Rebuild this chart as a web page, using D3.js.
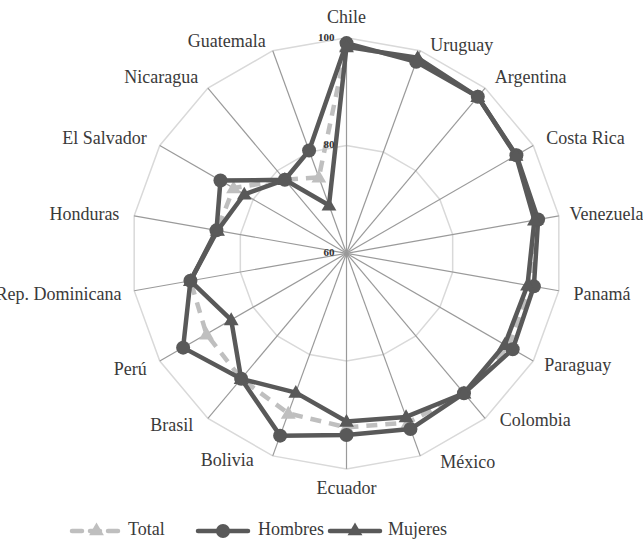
<!DOCTYPE html>
<html>
<head>
<meta charset="utf-8">
<script src="https://cdn.jsdelivr.net/npm/d3@7"></script>
<style>
  html, body { margin: 0; padding: 0; background: #fff; }
  svg { display: block; }
</style>
</head>
<body>
<svg id="chart" width="643" height="542"></svg>
<script>
const categories = ["Chile", "Uruguay", "Argentina", "Costa Rica", "Venezuela", "Panamá", "Paraguay", "Colombia", "México", "Ecuador", "Bolivia", "Brasil", "Perú", "Rep. Dominicana", "Honduras", "El Salvador", "Nicaragua", "Guatemala"];
const total    = [98.5, 98.2, 97.9, 96.3, 95.8, 94.7, 94.7, 93.9, 93.4, 92.3, 91.6, 90.4, 90.0, 89.4, 84.4, 84.2, 77.8, 75.0];
const hombres  = [99.0, 97.8, 97.9, 96.4, 96.1, 95.3, 95.6, 93.9, 94.7, 93.7, 96.0, 90.4, 95.0, 89.4, 84.5, 87.0, 77.8, 80.3];
const mujeres  = [98.3, 98.6, 97.9, 96.3, 95.4, 94.1, 93.9, 93.9, 92.3, 91.2, 87.5, 90.4, 84.7, 89.4, 84.3, 81.9, 77.8, 69.5];
const seriesNames = ["Total", "Hombres", "Mujeres"];
const tickValues = [60, 80, 100];

const FONT = '"Liberation Serif"';
const svg = d3.select("#chart");
const cx = 346.5, cy = 253.3, R = 215.6;

const r = d3.scaleLinear().domain([60, 100]).range([0, R]);
const angle = d3.scalePoint().domain(categories).range([0, 2 * Math.PI * (categories.length - 1) / categories.length]);

const pt = (cat, v) => {
  const a = angle(cat), rr = r(v);
  return [cx + rr * Math.sin(a), cy - rr * Math.cos(a)];
};

const g = svg.append("g");

// grid rings (polygons)
[80, 100].forEach(v => {
  g.append("polygon")
    .attr("points", categories.map(c => pt(c, v).join(",")).join(" "))
    .attr("fill", "none").attr("stroke", "#d9d9d9").attr("stroke-width", 1.5);
});

// spokes
categories.forEach(c => {
  const [x, y] = pt(c, 100);
  g.append("line").attr("x1", cx).attr("y1", cy).attr("x2", x).attr("y2", y)
    .attr("stroke", "#9a9a9a").attr("stroke-width", 1.2);
});

// category labels
const nudges = {
  "Chile": [0, -6], "Uruguay": [5, 8], "Guatemala": [-2, 4], "Colombia": [5, -10],
  "México": [15, -8], "Ecuador": [0, 4], "Bolivia": [-14, -10], "Brasil": [-5, -5],
  "Paraguay": [-2, -4], "Venezuela": [-4, 0], "Rep. Dominicana": [2, 0]
};
categories.forEach(c => {
  const a = angle(c);
  const s = Math.sin(a);
  const [x, y] = [cx + (R + 15) * s, cy - (R + 15) * Math.cos(a)];
  const n = nudges[c] || [0, 0];
  g.append("text").attr("x", x + n[0]).attr("y", y + n[1]).attr("dy", "0.35em")
    .attr("text-anchor", s > 0.1 ? "start" : (s < -0.1 ? "end" : "middle"))
    .style("font-family", FONT).style("font-size", "18px").attr("fill", "#3a3a3a")
    .text(c);
});

const line = d3.lineRadial().angle(d => angle(d.c)).radius(d => r(d.v)).curve(d3.curveLinearClosed);
const data = [total, hombres, mujeres].map(arr => arr.map((v, i) => ({ c: categories[i], v })));
const styles = [
  { color: "#bfbfbf", dash: "11,8", marker: "tri" },
  { color: "#595959", dash: null, marker: "circle" },
  { color: "#595959", dash: null, marker: "tri" }
];

const tri = d3.symbol().type(d3.symbolTriangle).size(95);

data.forEach((d, k) => {
  const st = styles[k];
  const sg = svg.append("g");
  sg.append("path").attr("transform", `translate(${cx},${cy})`).attr("d", line(d))
    .attr("fill", "none").attr("stroke", st.color).attr("stroke-width", 4.5)
    .attr("stroke-linejoin", "round")
    .attr("stroke-dasharray", st.dash);
  d.forEach(p => {
    const [x, y] = pt(p.c, p.v);
    if (st.marker === "circle") {
      sg.append("circle").attr("cx", x).attr("cy", y).attr("r", 7).attr("fill", st.color);
    } else {
      sg.append("path").attr("d", tri()).attr("transform", `translate(${x},${y + 1})`).attr("fill", st.color);
    }
  });
});

// tick labels (on top)
tickValues.forEach(v => {
  svg.append("text").attr("x", cx - 12).attr("y", cy - r(v) - 1)
    .attr("text-anchor", "end").attr("dy", "0.35em")
    .style("font-family", FONT).style("font-weight", "bold").style("font-size", "11px")
    .attr("fill", "#333").text(v);
});

// legend
const legendY = 531;
const legendItems = [
  { x1: 72, x2: 121, tx: 128 },
  { x1: 198, x2: 248, tx: 258 },
  { x1: 330, x2: 380, tx: 388 }
];
legendItems.forEach((li, k) => {
  const st = styles[k];
  const lg = svg.append("g");
  lg.append("line").attr("x1", li.x1).attr("x2", li.x2).attr("y1", legendY).attr("y2", legendY)
    .attr("stroke", st.color).attr("stroke-width", 4.5).attr("stroke-linecap", "round")
    .attr("stroke-dasharray", st.dash ? "10,8" : null);
  const mx = (li.x1 + li.x2) / 2;
  if (st.marker === "circle") {
    lg.append("circle").attr("cx", mx).attr("cy", legendY).attr("r", 7).attr("fill", st.color);
  } else {
    lg.append("path").attr("d", tri()).attr("transform", `translate(${mx},${legendY})`).attr("fill", st.color);
  }
  lg.append("text").attr("x", li.tx).attr("y", legendY - 2).attr("dy", "0.35em")
    .style("font-family", FONT).style("font-size", "18px").attr("fill", "#3a3a3a").text(seriesNames[k]);
});
</script>
</body>
</html>
